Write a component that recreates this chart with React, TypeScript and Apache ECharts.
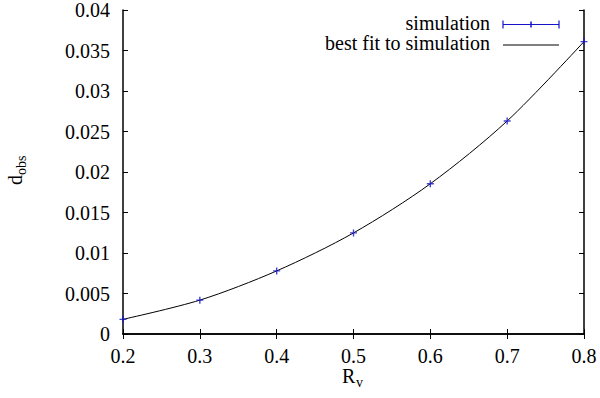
import React, { useEffect, useRef } from "react";
import * as echarts from "echarts";

const rvValues = [0.2, 0.3, 0.4, 0.5, 0.6, 0.7, 0.8];
const simulation = [0.00181, 0.00418, 0.00779, 0.01248, 0.01855, 0.0263, 0.0361];
const bestFit = [0.00181, 0.00418, 0.00779, 0.01248, 0.01855, 0.0263, 0.0361];
const legendLabels = ["simulation", "best fit to simulation"];

const FONT = "Liberation Serif";
const BLUE = "#1414c8";

export default function App() {
  const ref = useRef<HTMLDivElement>(null);
  useEffect(() => {
    document.body.style.margin = "0";
    if (!ref.current) return;
    const chart = echarts.init(ref.current, null, { renderer: "svg" });
    const tickCommon = { show: true, inside: true, length: 5, lineStyle: { color: "#000", width: 1 } };
    const lineCommon = { show: true, lineStyle: { color: "#000", width: 1.5 } };
    const xfmt = (v: number) => v.toFixed(1);
    const yfmt = (v: number) => String(parseFloat(v.toFixed(3)));
    const txt = (text: string, x: number, y: number, size: number, extra: any = {}) => ({
      type: "text", x, y, style: { text, fontFamily: FONT, fontSize: size, fill: "#000", ...extra },
    });
    chart.setOption({
      animation: false,
      grid: { left: 123, right: 16, top: 9, bottom: 64, containLabel: false },
      xAxis: [
        {
          type: "value", min: 0.2, max: 0.8, interval: 0.1,
          axisLine: lineCommon, axisTick: tickCommon, splitLine: { show: false },
          axisLabel: { formatter: xfmt, color: "#000", fontFamily: FONT, fontSize: 20, margin: 12 },
        },
        {
          type: "value", min: 0.2, max: 0.8, interval: 0.1, position: "top",
          axisLine: lineCommon, axisTick: tickCommon, axisLabel: { show: false }, splitLine: { show: false },
        },
      ],
      yAxis: [
        {
          type: "value", min: 0, max: 0.04, interval: 0.005,
          axisLine: lineCommon, axisTick: tickCommon, splitLine: { show: false },
          axisLabel: { formatter: yfmt, color: "#000", fontFamily: FONT, fontSize: 20, margin: 13 },
        },
        {
          type: "value", min: 0, max: 0.04, interval: 0.005, position: "right",
          axisLine: lineCommon, axisTick: tickCommon, axisLabel: { show: false }, splitLine: { show: false },
        },
      ],
      series: [
        {
          name: legendLabels[1],
          type: "line",
          smooth: 0.3,
          showSymbol: false,
          symbol: "none",
          data: rvValues.map((x, i) => [x, bestFit[i]]),
          lineStyle: { color: "#000", width: 1 },
          z: 2,
        },
        {
          name: legendLabels[0],
          type: "scatter",
          symbol: "path://M4,0h2v4h4v2h-4v4h-2v-4h-4v-2h4z",
          symbolSize: 7,
          data: rvValues.map((x, i) => [x, simulation[i]]),
          itemStyle: { color: BLUE },
          z: 3,
        },
      ],
      graphic: [
        txt(legendLabels[0], 490, 13, 20, { textAlign: "right" }),
        txt(legendLabels[1], 490, 33, 20, { textAlign: "right" }),
        { type: "line", shape: { x1: 503, y1: 24.5, x2: 559, y2: 24.5 }, style: { stroke: BLUE, lineWidth: 1.2 } },
        { type: "line", shape: { x1: 503, y1: 20.5, x2: 503, y2: 28.5 }, style: { stroke: BLUE, lineWidth: 1.2 } },
        { type: "line", shape: { x1: 559, y1: 20.5, x2: 559, y2: 28.5 }, style: { stroke: BLUE, lineWidth: 1.2 } },
        { type: "line", shape: { x1: 531, y1: 21.5, x2: 531, y2: 27.5 }, style: { stroke: BLUE, lineWidth: 1.5 } },
        { type: "line", shape: { x1: 503, y1: 45, x2: 559, y2: 45 }, style: { stroke: "#000", lineWidth: 1 } },
        txt("R", 342, 366, 20),
        txt("v", 356, 375, 14),
        { type: "text", x: 5, y: 185, rotation: Math.PI / 2, style: { text: "d", fontFamily: FONT, fontSize: 20, fill: "#000" } },
        { type: "text", x: 14, y: 175, rotation: Math.PI / 2, style: { text: "obs", fontFamily: FONT, fontSize: 14, fill: "#000" } },
      ],
    });
    return () => chart.dispose();
  }, []);
  return <div ref={ref} style={{ width: 600, height: 398 }} />;
}
